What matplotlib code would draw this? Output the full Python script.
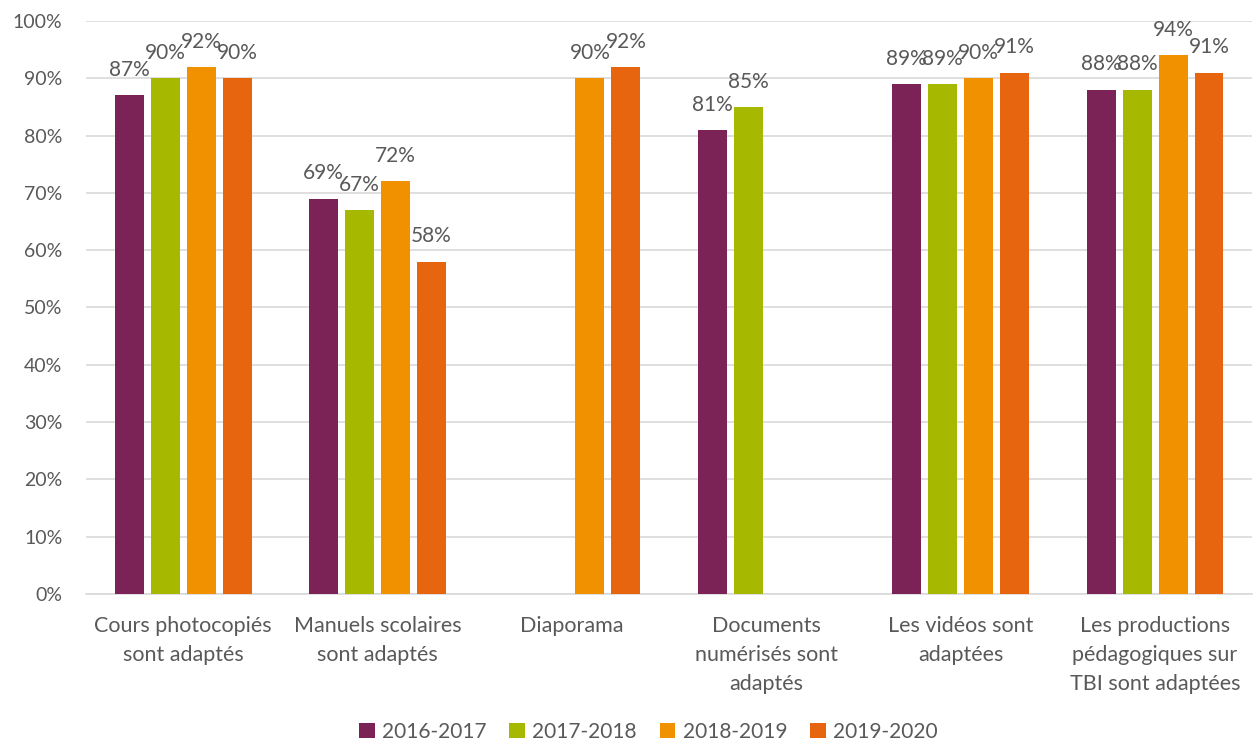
import numpy as np
import matplotlib.pyplot as plt

plt.rcParams['font.family'] = ['Lato', 'DejaVu Sans']

categories = ["Cours photocopiés\nsont adaptés",
              "Manuels scolaires\nsont adaptés",
              "Diaporama",
              "Documents\nnumérisés sont\nadaptés",
              "Les vidéos sont\nadaptées",
              "Les productions\npédagogiques sur\nTBI sont adaptées"]
annees = ["2016-2017", "2017-2018", "2018-2019", "2019-2020"]
v_2016 = [87, 69, np.nan, 81, 89, 88]
v_2017 = [90, 67, np.nan, 85, 89, 88]
v_2018 = [92, 72, 90, np.nan, 90, 94]
v_2019 = [90, 58, 92, np.nan, 91, 91]
series = [v_2016, v_2017, v_2018, v_2019]
couleurs = ["#7B2256", "#A6B900", "#F29100", "#E8650F"]
gris = "#595959"

fig = plt.figure(figsize=(12.54, 7.45), dpi=100)
ax = fig.add_axes([0.0686, 0.2027, 0.9300, 0.7691])

x = np.arange(len(categories))
pas = 0.185
largeur = 0.149
for i, (vals, nom, c) in enumerate(zip(series, annees, couleurs)):
    barres = ax.bar(x + (i - 1.5) * pas, vals, largeur, color=c, label=nom, zorder=3)
    etiquettes = ["" if np.isnan(v) else "%d%%" % v for v in vals]
    ax.bar_label(barres, labels=etiquettes, padding=11, fontsize=15, color=gris)

ax.set_xlim(-0.5, len(categories) - 0.5)
ax.set_ylim(0, 100)
ax.set_yticks(np.arange(0, 101, 10))
ax.set_yticklabels(["%d%%" % t for t in range(0, 101, 10)])
ax.set_xticks(x)
ax.set_xticklabels(categories, linespacing=1.55)
ax.tick_params(axis='y', length=0, labelsize=14, labelcolor=gris, pad=17)
ax.tick_params(axis='x', length=0, labelsize=15.5, labelcolor=gris, pad=16)
ax.yaxis.grid(True, color="#D9D9D9", linewidth=1.2, zorder=0)
for s in ['top', 'right', 'left']:
    ax.spines[s].set_visible(False)
ax.spines['bottom'].set_color("#D9D9D9")
ax.spines['bottom'].set_linewidth(1.2)

fig.legend(loc='lower center', bbox_to_anchor=(0.517, -0.021), ncol=4, frameon=False,
           fontsize=15, labelcolor=gris, handlelength=0.75, handleheight=0.75,
           handletextpad=0.35, columnspacing=1.1)

fig.savefig("out.png", dpi=100)
